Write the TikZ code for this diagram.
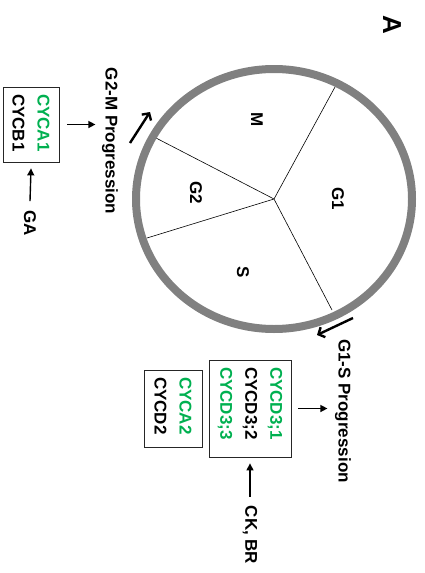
\documentclass[tikz,border=0pt]{standalone}
\usepackage{fontspec}
\setmainfont{Liberation Sans}
\usetikzlibrary{arrows.meta}
\definecolor{cgreen}{RGB}{0,176,80}
\definecolor{ringgray}{RGB}{128,128,128}
\begin{document}
\begin{tikzpicture}[x=1pt,y=-1pt,
  lbl/.style={font=\fontsize{17}{20}\selectfont\bfseries, rotate=-90, inner sep=0pt},
  genebox/.style={draw=black!85, line width=0.8pt, rotate=-90,
    font=\fontsize{17}{25}\selectfont\bfseries, align=left, inner xsep=7pt, inner ysep=0pt},
  arr/.style={-{Triangle[length=7pt,width=7pt]}, line width=1.4pt},
  cyclearr/.style={-{Straight Barb[length=5pt,width=11pt]}, line width=2.4pt},
  spoke/.style={line width=0.6pt}]
\useasboundingbox (0,0) rectangle (424,573);

% cell cycle ring
\coordinate (c) at (274,199);
\coordinate (sp1) at (335,87);
\coordinate (sp2) at (156,138);
\coordinate (sp3) at (147,238);
\coordinate (sp4) at (332,310);
\draw[spoke] (c) -- (sp1) (c) -- (sp2) (c) -- (sp3) (c) -- (sp4);
\draw[ringgray, line width=8pt] (c) ellipse [x radius=138, y radius=130];

\node[lbl] (pM) at (257,120) {M};
\node[lbl] (pG2) at (196,193) {G2};
\node[lbl] (pS) at (243,272) {S};
\node[lbl] (pG1) at (338,199) {G1};

\node[lbl, font=\fontsize{26}{30}\selectfont\bfseries] (A) at (392,25) {A};

% G2-M side
\node[lbl] (g2m) at (110,141) {G2-M Progression};
\coordinate (g2ma) at (130,143);
\coordinate (g2mb) at (150,112);
\draw[cyclearr] (g2ma) -- (g2mb);
\node[genebox, text width=61pt, minimum height=56pt] (b0) at (31,124.5)
  {\textcolor{cgreen}{CYCA1}\\CYCB1};
\node[lbl] (ga) at (30,223) {GA};
\draw[arr] ([xshift=8pt]b0.north) -- ++(28,0);
\draw[arr] ([yshift=9pt]ga.west) -- ([yshift=-6pt]b0.east);

% G1-S side
\node[lbl] (g1s) at (343,411) {G1-S Progression};
\coordinate (g1sa) at (353,318);
\coordinate (g1sb) at (317,335);
\draw[cyclearr] (g1sa) -- (g1sb);
\node[genebox, text width=83pt, minimum height=82pt] (b1) at (250,408.5)
  {\textcolor{cgreen}{CYCD3;1}\\CYCD3;2\\\textcolor{cgreen}{CYCD3;3}};
\node[genebox, text width=63pt, minimum height=58pt] (b2) at (173,408.5)
  {\textcolor{cgreen}{CYCA2}\\CYCD2};
\node[lbl] (ck) at (250,535) {CK, BR};
\draw[arr] ([xshift=7pt]b1.north) -- ++(29,0);
\draw[arr] ([yshift=9pt]ck.west) -- ([yshift=-6pt]b1.east);
\end{tikzpicture}
\end{document}
